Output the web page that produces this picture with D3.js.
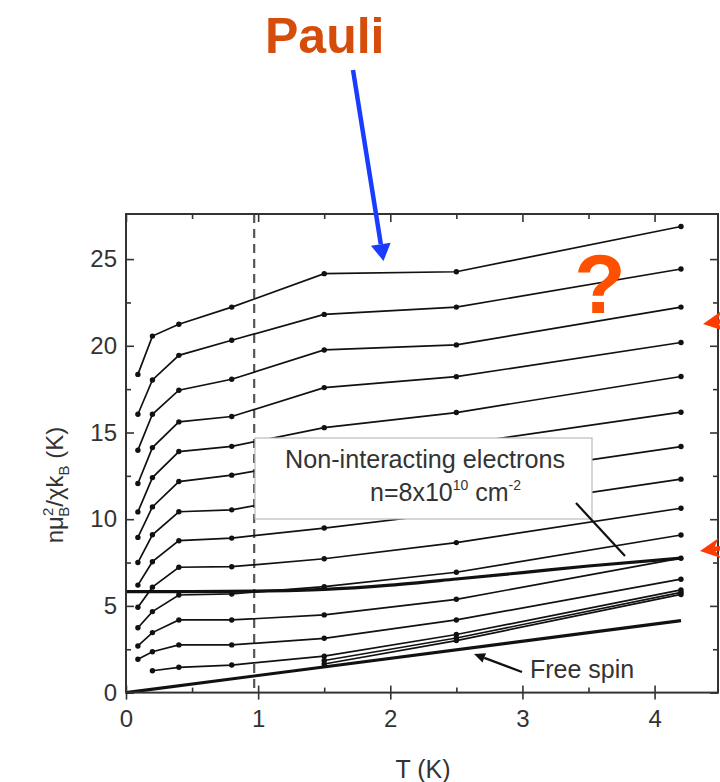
<!DOCTYPE html>
<meta charset="utf-8">
<style>
body { margin: 0; background: #fff; }
svg { display: block; font-family: "Liberation Sans", Arial, sans-serif; }
.tick text { font-size: 24px; fill: #333; }
.tick line { stroke: #333; stroke-width: 1.6; }
.curve { fill: none; stroke: #111; stroke-width: 1.7; }
.thick { fill: none; stroke: #111; stroke-width: 3.2; }
</style>
<svg width="720" height="782"></svg>
<script src="https://cdn.jsdelivr.net/npm/d3@7"></script>
<script>

var svg = d3.select("svg");

// temperatures where the measured curves have points
var temps = [0.09, 0.2, 0.4, 0.8, 1.5, 2.5, 4.2];

// one row per density, top to bottom (null = no point)
var curves = [
  [18.35, 20.56, 21.24, 22.23, 24.16, 24.27, 26.88],
  [16.05, 18.03, 19.45, 20.32, 21.81, 22.23, 24.43],
  [13.98, 16.05, 17.44, 18.07, 19.76, 20.05, 22.23],
  [12.06, 14.13, 15.61, 15.92, 17.59, 18.22, 20.19],
  [10.42, 12.40, 13.90, 14.20, 15.28, 16.15, 18.23],
  [8.95, 10.71, 12.17, 12.54, 13.50, 14.30, 16.17],
  [7.50, 9.10, 10.43, 10.54, 11.50, 12.30, 14.19],
  [6.20, 7.55, 8.76, 8.91, 9.49, 10.40, 12.31],
  [4.92, 6.08, 7.23, 7.26, 7.72, 8.65, 10.63],
  [3.74, 4.67, 5.63, 5.69, 6.11, 6.94, 9.09],
  [2.69, 3.46, 4.19, 4.19, 4.48, 5.38, 7.75],
  [1.92, 2.36, 2.75, 2.75, 3.13, 4.19, 6.54],
  [null, 1.26, 1.46, 1.59, 2.10, 3.35, 5.92]
];

// short curves that only start at 1.5 K
var bundleTemps = [1.5, 2.5, 4.2];
var bundle = [
  [1.85, 3.15, 5.78],
  [1.65, 3.00, 5.66]
];

// non-interacting electrons
var fermiTemps = [0, 0.5, 1, 1.5, 2, 2.5, 3, 3.5, 4.2];
var fermi = [5.82, 5.82, 5.85, 5.95, 6.2, 6.55, 6.92, 7.3, 7.75];

// free spin
var freeTemps = [0, 4.2];
var freeSpin = [0, 4.15];

var xTicks = [0, 1, 2, 3, 4];
var xMinor = [0.5, 1.5, 2.5, 3.5];
var yTicks = [0, 5, 10, 15, 20, 25];
var yMinor = [2.5, 7.5, 12.5, 17.5, 22.5];

var plotL = 126, plotR = 718, plotT = 214, plotB = 692.6;

var x = d3.scaleLinear().domain([0, 4.48]).range([plotL, plotR]);
var y = d3.scaleLinear().domain([0, 27.6]).range([plotB, plotT]);

var line = d3.line()
    .defined(function(d) { return d[1] != null; })
    .x(function(d) { return x(d[0]); })
    .y(function(d) { return y(d[1]); });

var smooth = d3.line()
    .curve(d3.curveMonotoneX)
    .x(function(d) { return x(d[0]); })
    .y(function(d) { return y(d[1]); });

function pairs(ts, vs) {
  return ts.map(function(t, i) { return [t, vs[i]]; });
}

// axes, ticks pointing inward
function ticks(g, axis) {
  g.call(axis).select(".domain").remove();
}
var noLabel = function() { return ""; };

svg.append("g").attr("transform", "translate(0," + plotB + ")")
    .call(ticks, d3.axisBottom(x).tickValues(xTicks).tickSize(7).tickPadding(10).tickFormat(d3.format("d")));
svg.append("g").attr("transform", "translate(0," + plotB + ")")
    .call(ticks, d3.axisBottom(x).tickValues(xTicks).tickSize(-7).tickFormat(noLabel));
svg.append("g").attr("transform", "translate(0," + plotB + ")")
    .call(ticks, d3.axisBottom(x).tickValues(xMinor).tickSize(-5).tickFormat(noLabel));
svg.append("g").attr("transform", "translate(0," + plotT + ")")
    .call(ticks, d3.axisTop(x).tickValues(xTicks).tickSize(-8).tickFormat(noLabel));
svg.append("g").attr("transform", "translate(0," + plotT + ")")
    .call(ticks, d3.axisTop(x).tickValues(xMinor).tickSize(-5).tickFormat(noLabel));

svg.append("g").attr("transform", "translate(" + plotL + ",0)")
    .call(ticks, d3.axisLeft(y).tickValues(yTicks).tickSize(-8).tickPadding(9).tickFormat(d3.format("d")));
svg.append("g").attr("transform", "translate(" + plotL + ",0)")
    .call(ticks, d3.axisLeft(y).tickValues(yMinor).tickSize(-5).tickFormat(noLabel));
svg.append("g").attr("transform", "translate(" + plotR + ",0)")
    .call(ticks, d3.axisRight(y).tickValues(yTicks).tickSize(-8).tickFormat(noLabel));
svg.append("g").attr("transform", "translate(" + plotR + ",0)")
    .call(ticks, d3.axisRight(y).tickValues(yMinor).tickSize(-5).tickFormat(noLabel));

// dashed line near 1 K
svg.append("line")
    .attr("x1", x(0.97)).attr("x2", x(0.97))
    .attr("y1", plotT).attr("y2", plotB)
    .attr("stroke", "#555").attr("stroke-width", 2.2)
    .attr("stroke-dasharray", "9,6");

// free spin and non-interacting lines
svg.append("path").attr("class", "thick").attr("d", line(pairs(freeTemps, freeSpin)));
svg.append("path").attr("class", "thick").attr("d", smooth(pairs(fermiTemps, fermi)));

var all = curves.map(function(c) { return pairs(temps, c); })
    .concat(bundle.map(function(c) { return pairs(bundleTemps, c); }));

svg.append("g").selectAll("path")
  .data(all)
  .enter().append("path")
    .attr("class", "curve")
    .attr("d", line);

svg.append("g").selectAll("circle")
  .data(d3.merge(all).filter(function(d) { return d[1] != null; }))
  .enter().append("circle")
    .attr("cx", function(d) { return x(d[0]); })
    .attr("cy", function(d) { return y(d[1]); })
    .attr("r", 2.7)
    .attr("fill", "#111");

// frame
svg.append("rect")
    .attr("x", plotL).attr("y", plotT)
    .attr("width", plotR - plotL).attr("height", plotB - plotT)
    .attr("fill", "none").attr("stroke", "#333").attr("stroke-width", 2);

// legend box
svg.append("rect")
    .attr("x", 255).attr("y", 438)
    .attr("width", 337).attr("height", 81)
    .attr("fill", "#fff").attr("stroke", "#bbb").attr("stroke-width", 1.2);

svg.append("text")
    .attr("x", 285).attr("y", 468)
    .attr("font-size", 25).attr("fill", "#333")
    .attr("textLength", 280).attr("lengthAdjust", "spacingAndGlyphs")
    .text("Non-interacting electrons");

var n = svg.append("text")
    .attr("x", 370).attr("y", 501)
    .attr("font-size", 25).attr("fill", "#333");
n.append("tspan").text("n=8x10");
n.append("tspan").attr("font-size", 14).attr("dy", -11).text("10");
n.append("tspan").attr("dy", 11).text(" cm");
n.append("tspan").attr("font-size", 14).attr("dy", -11).text("-2");

// pointer from the box to the thick curve
svg.append("line")
    .attr("x1", 576).attr("y1", 503).attr("x2", 625).attr("y2", 556)
    .attr("stroke", "#111").attr("stroke-width", 2.2);

// free spin label
svg.append("text")
    .attr("x", 530).attr("y", 678)
    .attr("font-size", 25).attr("fill", "#333")
    .text("Free spin");

function arrow(x1, y1, x2, y2, len, w, notch) {
  var dx = x2 - x1, dy = y2 - y1, d = Math.sqrt(dx * dx + dy * dy);
  var ux = dx / d, uy = dy / d, px = -uy, py = ux;
  var bx = x2 - ux * len, by = y2 - uy * len;
  var nx = x2 - ux * len * (1 - notch), ny = y2 - uy * len * (1 - notch);
  return {
    shaft: "M" + x1 + "," + y1 + "L" + nx + "," + ny,
    head: "M" + x2 + "," + y2 +
      "L" + (bx + px * w / 2) + "," + (by + py * w / 2) +
      "L" + nx + "," + ny +
      "L" + (bx - px * w / 2) + "," + (by - py * w / 2) + "Z"
  };
}

function drawArrow(a, color, sw) {
  svg.append("path").attr("d", a.shaft).attr("stroke", color).attr("stroke-width", sw).attr("fill", "none");
  svg.append("path").attr("d", a.head).attr("fill", color);
}

drawArrow(arrow(522, 672, 474, 654, 11, 10, 0), "#111", 2.2);

// annotations
svg.append("text")
    .attr("x", 265).attr("y", 53)
    .attr("font-size", 50).attr("font-weight", "bold")
    .attr("fill", "#d64c0a")
    .text("Pauli");

drawArrow(arrow(353, 70, 383.5, 261, 17, 20, 0), "#1a3cff", 4.5);

svg.append("text")
    .attr("x", 600).attr("y", 313)
    .attr("text-anchor", "middle")
    .attr("font-size", 84).attr("font-weight", "bold")
    .attr("fill", "#ff5000")
    .text("?");

drawArrow(arrow(750, 317, 703, 324, 20, 20, 0.3), "#ff3c00", 4.5);
drawArrow(arrow(750, 544, 700, 551, 20, 20, 0.3), "#ff3c00", 4.5);

// axis titles
svg.append("text")
    .attr("x", (plotL + plotR) / 2 + 1).attr("y", 778)
    .attr("text-anchor", "middle")
    .attr("font-size", 25).attr("fill", "#333")
    .text("T (K)");

var yl = svg.append("text")
    .attr("transform", "translate(63,485) rotate(-90)")
    .attr("text-anchor", "middle")
    .attr("font-size", 24).attr("fill", "#333");
yl.append("tspan").text("nμ");
yl.append("tspan").attr("font-size", 15).attr("dy", -10).text("2");
yl.append("tspan").attr("font-size", 15).attr("dx", -9).attr("dy", 16).text("B");
yl.append("tspan").attr("dy", -6).text("/χk");
yl.append("tspan").attr("font-size", 15).attr("dy", 6).text("B");
yl.append("tspan").attr("dy", -6).text("  (K)");

</script>
